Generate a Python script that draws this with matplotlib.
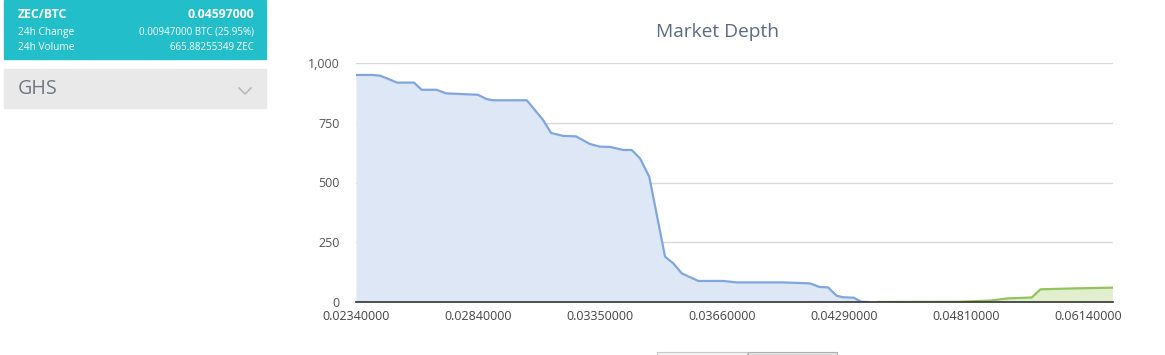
import matplotlib
matplotlib.use("Agg")
import matplotlib.pyplot as plt
from matplotlib.patches import Rectangle
from matplotlib.lines import Line2D

plt.rcParams['font.family'] = ['Open Sans', 'DejaVu Sans']

# Category axis: price labels (one label every 10 category units)
tick_labels = ["0.02340000", "0.02840000", "0.03350000", "0.03660000",
               "0.04290000", "0.04810000", "0.06140000"]
tick_pos = [0, 10, 20, 30, 40, 50, 60]

# Bids (cumulative depth) on category positions
bid_x = [0, 1.37, 1.97, 2.62, 3.36, 4.75, 5.38, 6.61, 7.38, 10.0, 10.71, 11.23,
         14.0, 15.3, 16.0, 16.97, 18.03, 19.18, 20.0, 20.82, 21.9, 22.6, 23.28,
         24.04, 25.33, 26.0, 26.7, 28.06, 30.1, 31.2, 35.0, 37.2, 38.0, 38.7,
         39.4, 39.9, 40.8, 41.4, 42.0]
bid_y = [950, 950, 947, 934, 918, 918, 888, 888, 873, 867, 849, 844,
         844, 764, 707, 695, 693, 661, 650, 649, 636, 636, 601,
         524, 190, 162, 120, 88, 88, 82, 82, 78, 63, 61,
         26, 20, 18, 1, 0]

# Asks (cumulative depth)
ask_x = [42.8, 49.5, 52.0, 53.4, 55.4, 56.1, 59.0, 62.0]
ask_y = [0, 1, 6, 15, 19, 53, 57, 60]

W, H = 1165, 355
fig = plt.figure(figsize=(W / 100, H / 100), dpi=100)
fig.patch.set_facecolor("white")

L, R, T, B = 356, 1113, 63, 302
ax = fig.add_axes([L / W, 1 - B / H, (R - L) / W, (B - T) / H])
ax.set_xlim(0, 62.05)
ax.set_ylim(0, 1000)

ax.fill_between(bid_x, bid_y, 0, color="#dde7f6", lw=0, zorder=1)
ax.plot(bid_x, bid_y, color="#7fa6de", lw=1.6, zorder=3, solid_joinstyle="round")
ax.fill_between(ask_x, ask_y, 0, color="#e2efcf", lw=0, zorder=1)
ax.plot(ask_x, ask_y, color="#93c35c", lw=1.6, zorder=3, solid_joinstyle="round")

ax.set_yticks([0, 250, 500, 750, 1000])
ax.set_yticklabels(["0", "250", "500", "750", "1,000"])
ax.set_xticks(tick_pos)
ax.set_xticklabels(tick_labels)
ax.tick_params(axis="y", length=0, pad=12, labelsize=9, labelcolor="#555555")
ax.tick_params(axis="x", length=0, pad=6, labelsize=9, labelcolor="#444444")
ax.grid(axis="y", color="#d8d8d8", lw=1, zorder=0)
ax.grid(axis="x", visible=False)
for s in ["top", "right", "left"]:
    ax.spines[s].set_visible(False)
ax.spines["bottom"].set_color("#333333")
ax.spines["bottom"].set_linewidth(1.2)
ax.spines["bottom"].set_zorder(4)
ax.set_axisbelow(True)

fig.text(717 / W, 1 - 32 / H, "Market Depth", ha="center", va="center",
         fontsize=13.8, color="#5b6b82")

# Left panel
def fx(px):
    return px / W

def fy(py):
    return 1 - py / H

fig.patches.append(Rectangle((fx(4), fy(59)), (266 - 4) / W, 59 / H,
                             transform=fig.transFigure, color="#22bec9", zorder=0))
fig.text(fx(18), fy(14), "ZEC/BTC", color="white", fontsize=8.8, fontweight="bold",
         ha="left", va="center")
fig.text(fx(254), fy(14), "0.04597000", color="white", fontsize=8.8, fontweight="bold",
         ha="right", va="center")
fig.text(fx(18), fy(32), "24h Change", color="white", fontsize=7.3, ha="left", va="center")
fig.text(fx(254), fy(32), "0.00947000 BTC (25.95%)", color="white", fontsize=7.0,
         ha="right", va="center")
fig.text(fx(18), fy(48), "24h Volume", color="white", fontsize=7.3, ha="left", va="center")
fig.text(fx(254), fy(48), "665.88255349 ZEC", color="white", fontsize=7.0,
         ha="right", va="center")

fig.patches.append(Rectangle((fx(4), fy(108)), (266 - 4) / W, (108 - 69) / H,
                             transform=fig.transFigure, color="#e9e9e9", zorder=0))
fig.text(fx(18), fy(89), "GHS", color="#6f7883", fontsize=14.2, ha="left", va="center")
fig.lines.append(Line2D([fx(239), fx(245), fx(251)], [fy(88), fy(94), fy(88)],
                        transform=fig.transFigure, color="#b8b8b8", lw=1.2))

# Bottom navigator buttons
fig.patches.append(Rectangle((fx(657), 0), (747 - 657) / W, 3 / H,
                             transform=fig.transFigure, facecolor="#f4f4f4",
                             edgecolor="#c8c8c8", lw=0.8))
fig.patches.append(Rectangle((fx(748), 0), (837 - 748) / W, 3 / H,
                             transform=fig.transFigure, facecolor="#e4e4e4",
                             edgecolor="#b0b0b0", lw=0.8))

fig.savefig("out.png", dpi=100, facecolor="white")
